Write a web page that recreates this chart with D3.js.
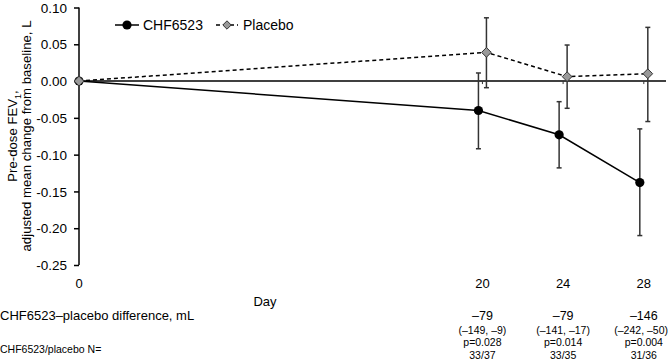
<!DOCTYPE html>
<html>
<head>
<meta charset="utf-8">
<script src="https://cdn.jsdelivr.net/npm/d3@7/dist/d3.min.js"></script>
<style>
  body { margin: 0; background: #fff; }
  svg { font-family: "Liberation Sans", Arial, sans-serif; }
</style>
</head>
<body>
<svg id="chart"></svg>
<script>
var width = 669,
    height = 362;

// data
var days = [0, 20, 24, 28];
var chfMean = [0, -0.040, -0.073, -0.138],
    chfLow  = [0, -0.092, -0.118, -0.210],
    chfHigh = [0,  0.011, -0.028, -0.065];
var plaMean = [0,  0.039,  0.006,  0.010],
    plaLow  = [0, -0.009, -0.037, -0.055],
    plaHigh = [0,  0.086,  0.049,  0.073];

var yTicks = [0.10, 0.05, 0.00, -0.05, -0.10, -0.15, -0.20, -0.25];
var xTickDays = [0, 20, 24, 28];

var diffDays = [20, 24, 28],
    diffVals = ["\u201379", "\u201379", "\u2013146"],
    diffCI   = ["(\u2013149, \u20139)", "(\u2013141, \u201317)", "(\u2013242, \u201350)"],
    pVals    = ["p=0.028", "p=0.014", "p=0.004"],
    nVals    = ["33/37", "33/35", "31/36"];

var svg = d3.select("#chart")
    .attr("width", width)
    .attr("height", height);

var x = d3.scaleLinear().domain([0, 29.1]).range([79, 666]),
    y = d3.scaleLinear().domain([-0.25, 0.10]).range([265, 7.5]);

var dodge = 4;

function series(mean, low, high) {
  return days.map(function(d, i) { return {day: d, v: mean[i], lo: low[i], hi: high[i]}; });
}
var chf = series(chfMean, chfLow, chfHigh),
    pla = series(plaMean, plaLow, plaHigh);

// y axis (plain hyphen for negatives, like the original)
var fmt = function(d) { return d3.format(".2f")(d).replace("\u2212", "-"); };
var yAxis = svg.append("g")
    .attr("transform", "translate(" + x(0) + ",0)")
    .call(d3.axisLeft(y).tickValues(yTicks).tickFormat(fmt)
      .tickSize(5).tickSizeOuter(0).tickPadding(7));
yAxis.selectAll("text").attr("font-size", 13.5).attr("fill", "#000")
    .attr("dy", "0.34em")
    .attr("font-family", "Liberation Sans, Arial, sans-serif");
yAxis.selectAll("path, line").attr("stroke", "#000").attr("stroke-width", 1.5);
yAxis.select(".domain").attr("d", "M0," + y(0.10) + "V" + y(-0.25));

// zero line with small day ticks
svg.append("line")
    .attr("x1", x(0)).attr("x2", 666)
    .attr("y1", y(0)).attr("y2", y(0))
    .attr("stroke", "#000").attr("stroke-width", 1.5);
svg.selectAll(".xtick")
    .data(diffDays)
  .enter().append("line")
    .attr("x1", d => x(d)).attr("x2", d => x(d))
    .attr("y1", y(0)).attr("y2", y(0) + 3)
    .attr("stroke", "#333").attr("stroke-width", 1);

// x tick labels
svg.selectAll(".xlab")
    .data(xTickDays)
  .enter().append("text")
    .attr("x", d => x(d)).attr("y", 287.5)
    .attr("text-anchor", "middle")
    .attr("font-size", 13)
    .text(d => d);

svg.append("text")
    .attr("x", 265).attr("y", 305.5)
    .attr("text-anchor", "middle")
    .attr("font-size", 13)
    .text("Day");

// y title
var yt = svg.append("text")
    .attr("transform", "translate(0,136)rotate(-90)")
    .attr("text-anchor", "middle")
    .attr("font-size", 13.2);
var l1 = yt.append("tspan").attr("x", 0).attr("y", 17);
l1.append("tspan").text("Pre-dose FEV");
l1.append("tspan").attr("font-size", 9).attr("dy", 4).text("1");
l1.append("tspan").attr("dy", -4).text(",");
yt.append("tspan").attr("x", 0).attr("y", 30.5).text("adjusted mean change from baseline, L");

// error bars
function drawErr(data, off, color) {
  var g = svg.append("g");
  var d1 = data.filter(d => d.day > 0);
  g.selectAll(".v").data(d1).enter().append("line")
    .attr("x1", d => x(d.day) + off).attr("x2", d => x(d.day) + off)
    .attr("y1", d => y(d.hi)).attr("y2", d => y(d.lo))
    .attr("stroke", color).attr("stroke-width", 1.5);
  g.selectAll(".t").data(d1).enter().append("line")
    .attr("x1", d => x(d.day) + off - 2.5).attr("x2", d => x(d.day) + off + 2.5)
    .attr("y1", d => y(d.hi)).attr("y2", d => y(d.hi))
    .attr("stroke", color).attr("stroke-width", 1.5);
  g.selectAll(".b").data(d1).enter().append("line")
    .attr("x1", d => x(d.day) + off - 2.5).attr("x2", d => x(d.day) + off + 2.5)
    .attr("y1", d => y(d.lo)).attr("y2", d => y(d.lo))
    .attr("stroke", color).attr("stroke-width", 1.5);
}
drawErr(chf, -dodge, "#333");
drawErr(pla, dodge, "#333");

function offX(off) {
  return function(d) { return d.day === 0 ? x(0) : x(d.day) + off; };
}

var line = d3.line().y(d => y(d.v));

svg.append("path")
    .datum(chf)
    .attr("d", line.x(offX(-dodge)))
    .attr("fill", "none").attr("stroke", "#000").attr("stroke-width", 1.5);
svg.append("path")
    .datum(pla)
    .attr("d", line.x(offX(dodge)))
    .attr("fill", "none").attr("stroke", "#000").attr("stroke-width", 1.5)
    .attr("stroke-dasharray", "4,3");

var diamond = d3.symbol().type(d3.symbolDiamond2).size(60);

svg.selectAll(".chf")
    .data(chf)
  .enter().append("circle")
    .attr("cx", offX(-dodge)).attr("cy", d => y(d.v))
    .attr("r", 4.6).attr("fill", "#000");

svg.selectAll(".pla")
    .data(pla)
  .enter().append("path")
    .attr("d", diamond)
    .attr("transform", d => "translate(" + offX(dodge)(d) + "," + y(d.v) + ")")
    .attr("fill", "#999").attr("stroke", "#333").attr("stroke-width", 1);

// legend
var lg = svg.append("g");
lg.append("line").attr("x1", 115).attr("x2", 139).attr("y1", 25).attr("y2", 25)
    .attr("stroke", "#000").attr("stroke-width", 1.5);
lg.append("circle").attr("cx", 127).attr("cy", 25).attr("r", 4.6).attr("fill", "#000");
lg.append("text").attr("x", 143).attr("y", 30).attr("font-size", 14).text("CHF6523");
lg.append("line").attr("x1", 216).attr("x2", 238).attr("y1", 25).attr("y2", 25)
    .attr("stroke", "#000").attr("stroke-width", 1.5).attr("stroke-dasharray", "4,3");
lg.append("path").attr("d", d3.symbol().type(d3.symbolDiamond2).size(45))
    .attr("transform", "translate(227,25)")
    .attr("fill", "#999").attr("stroke", "#333").attr("stroke-width", 1);
lg.append("text").attr("x", 243).attr("y", 30).attr("font-size", 14).text("Placebo");

// table under the chart
svg.append("text").attr("x", 0).attr("y", 320).attr("font-size", 13)
    .text("CHF6523\u2013placebo difference, mL");
svg.append("text").attr("x", 0).attr("y", 352.5).attr("font-size", 10.5)
    .text("CHF6523/placebo N=");

function row(vals, yy, fs) {
  svg.selectAll(null)
      .data(vals)
    .enter().append("text")
      .attr("y", yy)
      .attr("text-anchor", "middle")
      .attr("font-size", fs)
      .text(d => d)
      .attr("x", function(d, i) {
        var w = this.getComputedTextLength();
        return Math.min(x(diffDays[i]), width - 1 - w / 2);
      });
}
row(diffVals, 320, 12.5);
row(diffCI, 334, 10.5);
row(pVals, 346, 10.5);
row(nVals, 358.5, 10.5);
</script>
</body>
</html>
